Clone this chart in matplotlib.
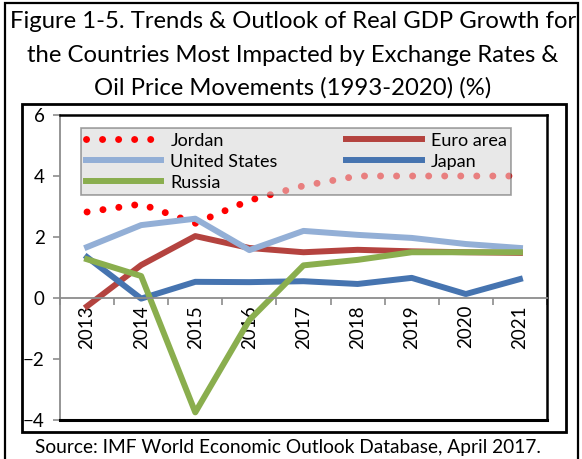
import matplotlib
matplotlib.use("Agg")
import matplotlib.pyplot as plt
from matplotlib.patches import Rectangle
import numpy as np

plt.rcParams['font.family'] = ['Lato', 'DejaVu Sans']

# data
years = ["2013", "2014", "2015", "2016", "2017", "2018", "2019", "2020", "2021"]
jordan = [2.82, 3.08, 2.45, 3.2, 3.68, 4.0, 4.0, 4.0, 4.0]
euro_area = [-0.27, 1.08, 2.03, 1.64, 1.5, 1.58, 1.53, 1.5, 1.48]
united_states = [1.67, 2.39, 2.6, 1.57, 2.2, 2.07, 1.97, 1.77, 1.64]
japan = [1.34, -0.02, 0.53, 0.52, 0.55, 0.46, 0.66, 0.13, 0.62]
russia = [1.27, 0.72, -3.75, -0.72, 1.07, 1.25, 1.5, 1.5, 1.5]

W, H = 582, 459
fig = plt.figure(figsize=(W / 100, H / 100), dpi=100)


def fx(px):
    return px / W


def fy(py):
    return 1 - py / H


# outer frame and chart box
fig.patches.append(Rectangle((fx(5), fy(470)), fx(578) - fx(5), fy(3) - fy(470),
                             transform=fig.transFigure, fill=False, ec='black', lw=1.6))
fig.patches.append(Rectangle((fx(22), fy(432)), fx(566) - fx(22), fy(104) - fy(432),
                             transform=fig.transFigure, fill=False, ec='black', lw=2))

# title
title_lines = ["Figure 1-5. Trends & Outlook of Real GDP Growth for",
               "the Countries Most Impacted by Exchange Rates &",
               "Oil Price Movements (1993-2020) (%)"]
for line, ypix in zip(title_lines, [22, 55, 88]):
    fig.text(fx(293), fy(ypix), line, ha='center', va='center', fontsize=17.2)

fig.text(fx(288), fy(448), "Source: IMF World Economic Outlook Database, April 2017.",
         ha='center', va='center', fontsize=13.8)

ax = fig.add_axes([fx(60), fy(420), fx(547) - fx(60), fy(115) - fy(420)])
x = np.arange(len(years))

l_jo, = ax.plot(x, jordan, color='#FF0000', lw=5, linestyle=(0, (0.01, 2.3)),
                dash_capstyle='round', label='Jordan')
l_eu, = ax.plot(x, euro_area, color='#B4433F', lw=4.3, label='Euro area')
l_us, = ax.plot(x, united_states, color='#93AFD6', lw=4.3, label='United States')
l_jp, = ax.plot(x, japan, color='#4674B0', lw=4.3, label='Japan')
l_ru, = ax.plot(x, russia, color='#8AAE4E', lw=4.3, label='Russia')

ax.set_xlim(-0.5, len(years) - 0.5)
ax.set_ylim(-4, 6)
ax.set_yticks([-4, -2, 0, 2, 4, 6])

# x axis sits at zero, categories between tick marks
ax.spines['bottom'].set_position(('data', 0))
ax.spines['bottom'].set_color('#8C8C8C')
ax.spines['bottom'].set_linewidth(1.3)
ax.spines['left'].set_color('#8C8C8C')
ax.spines['left'].set_linewidth(1.3)
for s in ['top', 'right']:
    ax.spines[s].set_color('black')
    ax.spines[s].set_linewidth(1.8)
ax.axhline(-4, color='black', lw=2.2, clip_on=False, zorder=5)

ax.set_xticks(np.arange(len(years) + 1) - 0.5)
ax.set_xticklabels([])
ax.set_xticks(x, minor=True)
ax.set_xticklabels(years, minor=True, rotation=90, fontsize=13.5)
ax.tick_params(axis='x', which='major', direction='out', length=5, color='#8C8C8C', width=1.2)
ax.tick_params(axis='x', which='minor', length=0, pad=5)
ax.tick_params(axis='y', direction='out', length=5, color='#8C8C8C', width=1.2,
               labelsize=13.5, pad=6)

# legend filled row by row: Jordan, Euro area / United States, Japan / Russia
handles = [l_jo, l_us, l_ru, l_eu, l_jp]
leg = ax.legend(handles, [h.get_label() for h in handles], ncol=2, loc='upper left',
                mode='expand', bbox_to_anchor=(0.0246, 0.754, 0.92, 0.233),
                fontsize=13, handlelength=4.2, handletextpad=0.5,
                labelspacing=0.28, borderpad=0.25, fancybox=False,
                facecolor='#D9D9D9', edgecolor='#606060', framealpha=0.59)
leg.get_frame().set_linewidth(1.2)

fig.savefig("out.png", dpi=100)
